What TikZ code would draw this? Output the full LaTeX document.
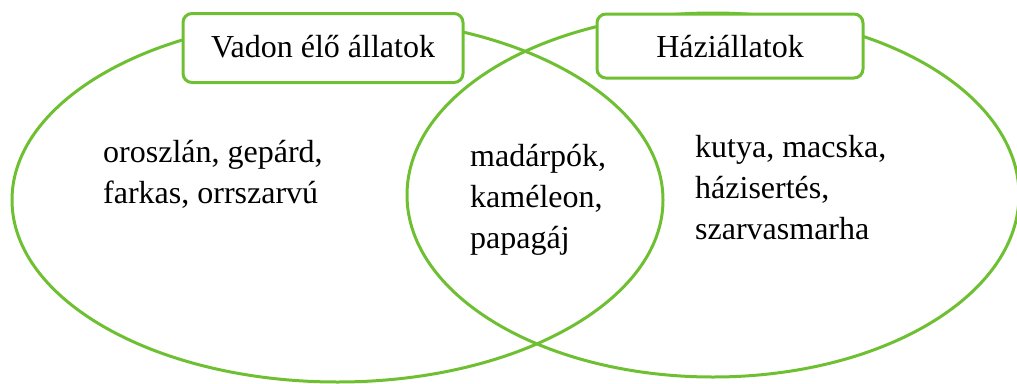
\documentclass[tikz,border=0pt]{standalone}
\usepackage{fontspec}
\setmainfont{Liberation Serif}
\usepackage{tikz}
\usetikzlibrary{shapes,positioning}
\definecolor{vgreen}{RGB}{110,192,50}
\tikzset{ell/.style={ellipse,draw=vgreen,line width=3pt,inner sep=0pt}}
\tikzset{lbl/.style={rectangle,rounded corners=9pt,draw=vgreen,fill=white,line width=3pt,inner sep=0pt,text height=22pt,text depth=4pt}}
\tikzset{txt/.style={anchor=base west,align=left,inner sep=0pt}}

\begin{document}
\begin{tikzpicture}[x=1pt,y=-1pt,font=\fontsize{32}{41}\selectfont]
		\useasboundingbox (0,0) rectangle (1017,383);
		\node[ell, minimum width=651pt, minimum height=364pt] (wild) at (337.5,200) {};
		\node[ell, minimum width=612pt, minimum height=364pt] (pets) at (713,195) {};
		\node[lbl, minimum width=280pt, minimum height=69pt] (wildlbl) at (323,48) {Vadon élő állatok};
		\node[lbl, minimum width=266pt, minimum height=64pt, text depth=0pt] (petslbl) at (730,46) {Háziállatok};
		% anchor is the baseline of the last line
		\node[txt] (wildtxt) at (103,203) {oroszlán, gepárd,\\farkas, orrszarvú};
		\node[txt] (bothtxt) at (470,248) {madárpók,\\kaméleon,\\papagáj};
		\node[txt] (petstxt) at (695,239) {kutya, macska,\\házisertés,\\szarvasmarha};

    \end{tikzpicture}
\end{document}
